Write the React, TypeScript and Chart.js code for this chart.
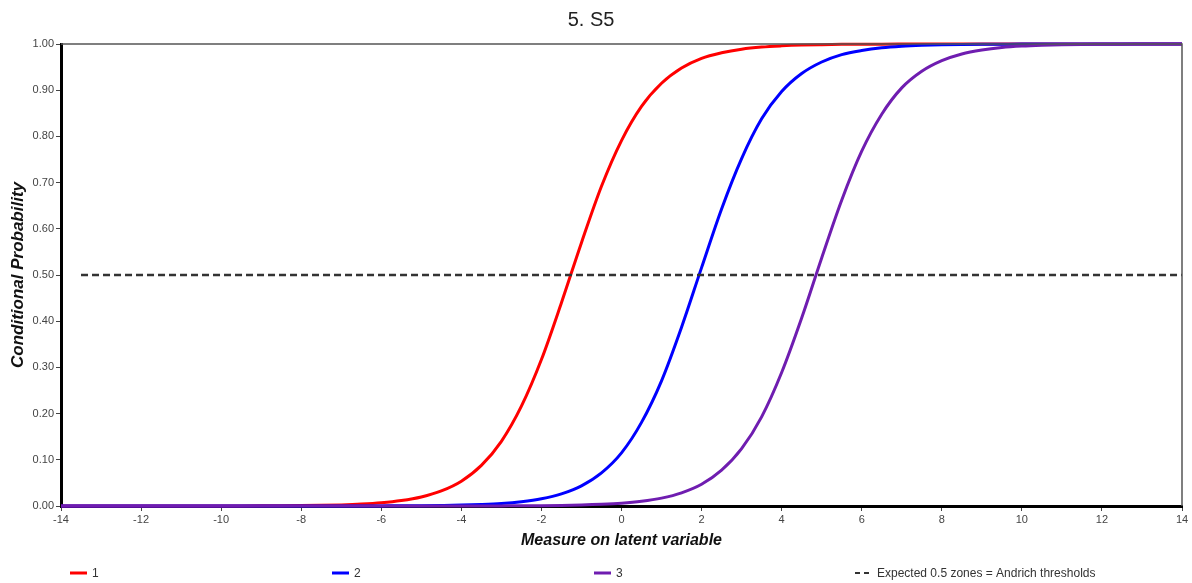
import { useEffect, useRef } from 'react';
import { Chart, registerables } from 'chart.js';

Chart.register(...registerables);

// Measure on latent variable (x positions of read points)
const xValues = [
  -14, -13.5, -13, -12.5, -12, -11.5, -11, -10.5,
  -10, -9.5, -9, -8.5, -8, -7.5, -7, -6.5,
  -6, -5.5, -5, -4.5, -4, -3.5, -3, -2.5,
  -2, -1.5, -1, -0.5, 0, 0.5, 1, 1.5,
  2, 2.5, 3, 3.5, 4, 4.5, 5, 5.5,
  6, 6.5, 7, 7.5, 8, 8.5, 9, 9.5,
  10, 10.5, 11, 11.5, 12, 12.5, 13, 13.5,
  14,
];

// Conditional probability, category 1 (red)
const cat1 = [
  0.0000016, 0.0000027, 0.0000045, 0.0000076, 0.0000128, 0.0000216, 0.0000365, 0.0000617,
  0.000104, 0.000177, 0.000298, 0.000505, 0.00085, 0.00144, 0.00243, 0.00411,
  0.0069, 0.0117, 0.0195, 0.0326, 0.0537, 0.0878, 0.14, 0.216,
  0.317, 0.44, 0.57, 0.692, 0.791, 0.865, 0.915, 0.948,
  0.969, 0.981, 0.9888, 0.9934, 0.996, 0.9977, 0.9986, 0.9992,
  0.9995, 0.9997, 0.9998, 0.9999, 0.9999, 1, 1, 1,
  1, 1, 1, 1, 1, 1, 1, 1,
  1,
];
// category 2 (blue)
const cat2 = [
  0, 0, 0, 0, 0, 0.000001, 0.000001, 0.000002,
  0.000004, 0.000006, 0.00001, 0.000017, 0.00003, 0.00005, 0.00008, 0.00014,
  0.00024, 0.00041, 0.00068, 0.00116, 0.0019, 0.0033, 0.0055, 0.0094,
  0.0157, 0.0263, 0.0436, 0.0717, 0.115, 0.181, 0.271, 0.387,
  0.516, 0.643, 0.752, 0.838, 0.897, 0.936, 0.961, 0.977,
  0.986, 0.9918, 0.9951, 0.9971, 0.9983, 0.999, 0.9994, 0.9996,
  0.9998, 0.9999, 0.9999, 1, 1, 1, 1, 1,
  1,
];
// category 3 (purple)
const cat3 = [
  0, 0, 0, 0, 0, 0, 0, 0,
  0, 0, 0, 0.000001, 0.000001, 0.000002, 0.000004, 0.000007,
  0.00001, 0.00002, 0.00003, 0.00005, 0.00009, 0.00015, 0.00026, 0.00044,
  0.00075, 0.00126, 0.0021, 0.0036, 0.006, 0.0102, 0.0171, 0.0285,
  0.047, 0.0775, 0.124, 0.193, 0.289, 0.407, 0.537, 0.662,
  0.768, 0.848, 0.905, 0.941, 0.964, 0.9785, 0.987, 0.9924,
  0.9955, 0.9973, 0.9984, 0.9991, 0.9994, 0.9997, 0.9998, 0.9999,
  0.9999,
];

// Expected 0.5 line
const thresholdX = [-13.5, 14];
const thresholdY = [0.5, 0.5];

const seriesLabels = ['1', '2', '3', 'Expected 0.5 zones = Andrich thresholds'];
const seriesColors = ['#ff0000', '#0000ff', '#6f1db0', '#333333'];

const chartTitle = '5. S5';
const xTitle = 'Measure on latent variable';
const yTitle = 'Conditional Probability';
const xMin = -14;
const xMax = 14;
const xStep = 2;
const yMin = 0;
const yMax = 1;
const yStep = 0.1;

const FONT = "Arial, 'Liberation Sans', sans-serif";

const toPoints = (ys: number[]) => xValues.map((x, i) => ({ x, y: ys[i] }));

const framePlugin = {
  id: 'frame',
  afterDatasetsDraw(chart: any) {
    const { ctx, chartArea } = chart;
    ctx.save();
    ctx.strokeStyle = '#555';
    ctx.lineWidth = 1.5;
    ctx.beginPath();
    ctx.moveTo(chartArea.left, chartArea.top);
    ctx.lineTo(chartArea.right, chartArea.top);
    ctx.lineTo(chartArea.right, chartArea.bottom);
    ctx.stroke();
    ctx.restore();
  },
};

const legendPlugin = {
  id: 'customLegend',
  afterDraw(chart: any) {
    const { ctx } = chart;
    const y = 573;
    const startX = 70;
    const spacing = 262;
    ctx.save();
    ctx.font = `12px ${FONT}`;
    ctx.textBaseline = 'middle';
    ctx.textAlign = 'left';
    seriesLabels.forEach((label, i) => {
      const x0 = startX + i * spacing - (i === 3 ? 1 : 0);
      ctx.strokeStyle = seriesColors[i];
      ctx.lineWidth = 3;
      if (i === 3) {
        ctx.setLineDash([5, 4]);
        ctx.lineWidth = 2;
      } else {
        ctx.setLineDash([]);
      }
      ctx.beginPath();
      ctx.moveTo(x0, y);
      ctx.lineTo(x0 + (i === 3 ? 14 : 17), y);
      ctx.stroke();
      ctx.setLineDash([]);
      ctx.fillStyle = '#333';
      ctx.fillText(label, x0 + 22, y + 1);
    });
    ctx.restore();
  },
};

export default function App() {
  const ref = useRef<HTMLCanvasElement>(null);

  useEffect(() => {
    document.body.style.margin = '0';
    if (!ref.current) return;
    const curve = (i: number, ys: number[]) => ({
      label: seriesLabels[i],
      data: toPoints(ys),
      borderColor: seriesColors[i],
      backgroundColor: seriesColors[i],
      borderWidth: 3,
      pointRadius: 0,
      cubicInterpolationMode: 'monotone' as const,
      fill: false,
      clip: false as any,
    });
    const chart = new Chart(ref.current, {
      type: 'line',
      data: {
        datasets: [
          {
            label: seriesLabels[3],
            data: thresholdX.map((x, i) => ({ x, y: thresholdY[i] })),
            borderColor: seriesColors[3],
            borderWidth: 2.5,
            borderDash: [7, 4],
            pointRadius: 0,
            fill: false,
          },
          curve(2, cat3),
          curve(1, cat2),
          curve(0, cat1),
        ],
      },
      options: {
        animation: false,
        responsive: true,
        maintainAspectRatio: false,
        layout: { padding: { left: 0, right: 10, top: 0, bottom: 27 } },
        plugins: {
          legend: { display: false },
          tooltip: { enabled: false },
          title: {
            display: true,
            text: chartTitle,
            color: '#222',
            font: { family: FONT, size: 20, weight: 'normal' },
            padding: { top: 8, bottom: 12 },
          },
        },
        scales: {
          x: {
            type: 'linear',
            min: xMin,
            max: xMax,
            z: 1,
            ticks: {
              stepSize: xStep,
              color: '#444',
              font: { family: FONT, size: 11 },
              padding: 2,
              maxRotation: 0,
            },
            grid: { drawOnChartArea: false, drawTicks: true, tickLength: 5, color: '#444', lineWidth: 1 },
            border: { color: '#000', width: 3 },
            title: {
              display: true,
              text: xTitle,
              color: '#111',
              font: { family: FONT, size: 16, weight: 'bold', style: 'italic' },
              padding: { top: 0, bottom: 6 },
            },
            afterFit: (s: any) => {
              s.height = 50;
            },
          },
          y: {
            type: 'linear',
            min: yMin,
            max: yMax,
            z: 1,
            ticks: {
              stepSize: yStep,
              color: '#444',
              font: { family: FONT, size: 11 },
              padding: 2,
              callback: (v: any) => Number(v).toFixed(2),
            },
            grid: { drawOnChartArea: false, drawTicks: true, tickLength: 5, color: '#444', lineWidth: 1 },
            border: { color: '#000', width: 3 },
            title: {
              display: true,
              text: yTitle,
              color: '#111',
              font: { family: FONT, size: 17, weight: 'bold', style: 'italic' },
              padding: { top: 8, bottom: 0 },
            },
            afterFit: (s: any) => {
              s.width = 61;
            },
          },
        },
      },
      plugins: [framePlugin, legendPlugin],
    });
    return () => chart.destroy();
  }, []);

  return (
    <div style={{ width: 1192, height: 583, position: 'relative' }}>
      <canvas ref={ref} />
    </div>
  );
}
